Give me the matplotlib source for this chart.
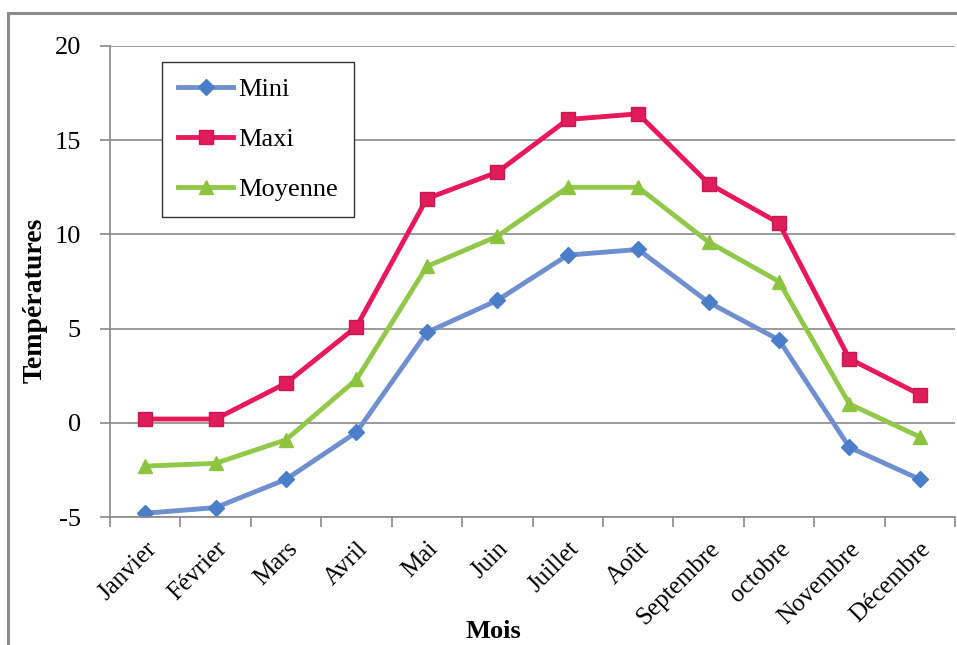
import matplotlib.pyplot as plt
from matplotlib.patches import Rectangle

mois = ['Janvier', 'Février', 'Mars', 'Avril', 'Mai', 'Juin', 'Juillet',
        'Août', 'Septembre', 'octobre', 'Novembre', 'Décembre']
mini = [-4.8, -4.5, -3.0, -0.5, 4.8, 6.5, 8.9, 9.2, 6.4, 4.4, -1.3, -3.0]
maxi = [0.2, 0.2, 2.1, 5.1, 11.9, 13.3, 16.1, 16.4, 12.7, 10.6, 3.4, 1.5]
moyenne = [-2.3, -2.15, -0.9, 2.3, 8.3, 9.9, 12.5, 12.5, 9.6, 7.5, 1.0, -0.75]

plt.rcParams['font.family'] = ['Liberation Serif', 'DejaVu Serif']
plt.rcParams['axes.unicode_minus'] = False

fig = plt.figure(figsize=(9.57, 6.45), dpi=100)
# outer chart frame (cut by the image on the right and bottom)
fig.patches.append(Rectangle((8 / 957, -0.05), 1.2, 1 - 13 / 645 + 0.05,
                             transform=fig.transFigure, fill=False,
                             edgecolor='#8c8c8c', linewidth=2.2))

ax = fig.add_axes([110 / 957, 1 - 517 / 645, 845 / 957, 471 / 645])
x = list(range(len(mois)))

ax.plot(x, mini, color='#6f8fcf', linewidth=3.5, marker='D', markersize=8,
        markerfacecolor='#4a7ec8', markeredgecolor='#4a7ec8', label='Mini')
ax.plot(x, maxi, color='#e8185a', linewidth=3.5, marker='s', markersize=10,
        markerfacecolor='#e01c5c', markeredgecolor='#c8184f', label='Maxi')
ax.plot(x, moyenne, color='#92c84a', linewidth=3.5, marker='^', markersize=10,
        markerfacecolor='#8cc440', markeredgecolor='#8cc440', label='Moyenne')

ax.set_xlim(-0.5, 11.5)
ax.set_ylim(-5, 20)
ax.set_yticks([-5, 0, 5, 10, 15, 20])
ax.yaxis.grid(True, color='#8a8a8a', linewidth=1.2)
ax.set_axisbelow(True)

ax.set_xticks(x)
ax.set_xticklabels(mois, rotation=45, ha='right', rotation_mode='anchor',
                   fontsize=18)
ax.set_xticks([i - 0.5 for i in range(13)], minor=True)
ax.tick_params(axis='x', which='major', length=0, pad=15)
ax.tick_params(axis='x', which='minor', length=7, color='#8a8a8a', width=1.2)
ax.tick_params(axis='y', length=7, color='#8a8a8a', width=1.2, labelsize=19,
               pad=14)

for s in ['top', 'right']:
    ax.spines[s].set_visible(False)
for s in ['left', 'bottom']:
    ax.spines[s].set_color('#8a8a8a')
    ax.spines[s].set_linewidth(1.2)

fig.text(35 / 957, 1 - 300 / 645, 'Températures', rotation=90, ha='center',
         va='center', fontsize=20, fontweight='bold')
fig.text(493 / 957, 1 - 631 / 645, 'Mois', ha='center', va='center',
         fontsize=19, fontweight='bold')

leg = ax.legend(loc='upper left', bbox_to_anchor=(52 / 845, 1 - 16 / 471),
                fontsize=19, frameon=True, fancybox=False, edgecolor='#333333',
                framealpha=1, handlelength=2.1, handletextpad=0.2,
                labelspacing=1.0, borderpad=0.6, borderaxespad=0)
leg.get_frame().set_linewidth(1.0)

fig.savefig('out.png', dpi=100)
